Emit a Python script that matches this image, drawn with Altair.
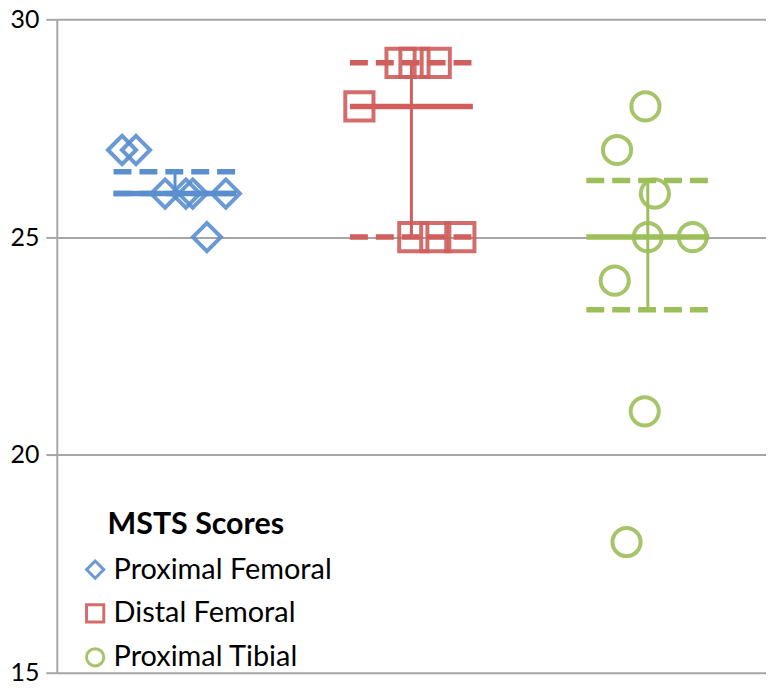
import altair as alt
import pandas as pd

groups = ["Proximal Femoral", "Distal Femoral", "Proximal Tibial"]
colors = ["#5A8FCF", "#CF5E5C", "#9DBF5A"]
shapes = ["diamond", "square", "circle"]

# individual scores (x = jittered category position)
pf_x = [0.776, 0.835, 0.958, 1.046, 1.075, 1.215, 1.135]
pf_y = [27, 27, 26, 26, 26, 26, 25]
df_x = [1.954, 2.013, 2.103, 1.780, 2.008, 2.101, 2.207]
df_y = [29, 29, 29, 28, 25, 25, 25]
pt_x = [2.99, 2.87, 3.03, 3.00, 3.19, 2.86, 2.987, 2.91]
pt_y = [28, 27, 26, 25, 25, 24, 21, 18]

# summary per group
centers = [1, 2, 3]
medians = [26, 28, 25]
q1 = [26, 25, 23.33]
q3 = [26.5, 29, 26.3]
half_w = 0.26

pts = pd.DataFrame({
    "x": pf_x + df_x + pt_x,
    "y": pf_y + df_y + pt_y,
    "group": [groups[0]] * len(pf_x) + [groups[1]] * len(df_x) + [groups[2]] * len(pt_x),
})

summ = pd.DataFrame({
    "group": groups,
    "c": centers,
    "xl": [c - half_w for c in centers],
    "xr": [c + half_w for c in centers],
    "med": medians,
    "q1": q1,
    "q3": q3,
})
quart = pd.concat([
    summ.assign(q=summ["q1"]),
    summ.assign(q=summ["q3"]),
])

xscale = alt.Scale(domain=[0.5, 3.5], nice=False, zero=False)
yscale = alt.Scale(domain=[15, 30], nice=False, zero=False)

legend = alt.Legend(
    title=None, orient="none", legendX=24, legendY=538,
    labelFontSize=29, labelFont="Lato", labelColor="black", labelLimit=400,
    symbolSize=300, symbolStrokeWidth=3, rowPadding=13, labelOffset=4,
)

yaxis = alt.Axis(
    values=[15, 20, 25, 30], grid=True, gridColor="#a6a6a6", gridWidth=2,
    domainColor="#a6a6a6", domainWidth=2, tickColor="#a6a6a6", tickWidth=2,
    tickSize=11, labelFontSize=25, labelFont="Lato", labelColor="black",
    labelPadding=7, title=None,
)

points = alt.Chart(pts).mark_point(filled=False, strokeWidth=4, opacity=0.9).encode(
    x=alt.X("x:Q", scale=xscale, axis=None),
    y=alt.Y("y:Q", scale=yscale, axis=yaxis),
    color=alt.Color("group:N", scale=alt.Scale(domain=groups, range=colors), legend=legend),
    shape=alt.Shape("group:N", scale=alt.Scale(domain=groups, range=shapes), legend=legend),
    size=alt.Size("group:N", scale=alt.Scale(domain=groups, range=[800, 800, 1090]), legend=None),
)

stroke_enc = alt.Stroke("group:N", scale=alt.Scale(domain=groups, range=colors), legend=None)

med_rules = alt.Chart(summ).mark_rule(strokeWidth=5.5).encode(
    x=alt.X("xl:Q", scale=xscale, axis=None), x2="xr:Q",
    y=alt.Y("med:Q", scale=yscale), stroke=stroke_enc,
)

q_rules = alt.Chart(quart).mark_rule(strokeWidth=5.5, strokeDash=[18, 8]).encode(
    x=alt.X("xl:Q", scale=xscale, axis=None), x2="xr:Q",
    y=alt.Y("q:Q", scale=yscale), stroke=stroke_enc,
)

v_rules = alt.Chart(summ).mark_rule(strokeWidth=3).encode(
    x=alt.X("c:Q", scale=xscale, axis=None),
    y=alt.Y("q1:Q", scale=yscale), y2="q3:Q", stroke=stroke_enc,
)

title_txt = alt.Chart(pd.DataFrame({"t": ["MSTS Scores"]})).mark_text(
    align="left", baseline="middle", fontSize=30.5, fontWeight="bold",
    font="Lato", color="black",
).encode(x=alt.value(51), y=alt.value(508), text="t:N")

chart = alt.layer(points, med_rules, q_rules, v_rules, title_txt).properties(
    width=712, height=656,
    padding={"left": 49, "top": 10, "right": 0, "bottom": 15},
    autosize=alt.AutoSizeParams(type="none"),
).configure_view(stroke=None).resolve_scale(size="independent")

chart.save("out.html", embed_options={"renderer": "svg", "actions": False})
